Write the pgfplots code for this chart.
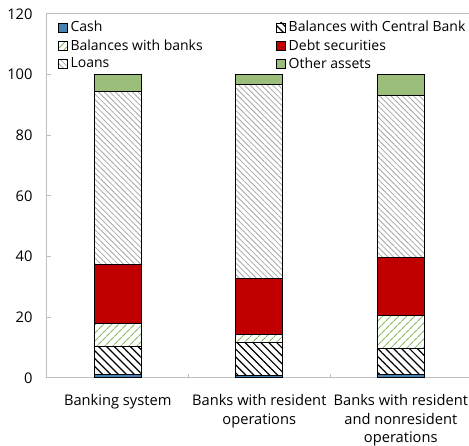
\documentclass[border=0pt]{standalone}
\usepackage{pgfplots}
\pgfplotsset{compat=1.18}
\usetikzlibrary{patterns.meta}
\usepackage{fontspec}
\setmainfont{Open Sans}
\definecolor{cashc}{RGB}{70,130,180}
\definecolor{debtc}{RGB}{192,0,0}
\definecolor{othc}{RGB}{155,191,122}
\definecolor{bankc}{RGB}{140,185,100}
\definecolor{framec}{RGB}{191,191,191}
\begin{document}
\fontsize{11pt}{14pt}\selectfont
\begin{tikzpicture}
\begin{axis}[
  at={(0,0)}, anchor=south west,
  scale only axis,
  width=318.4pt, height=273pt,
  ybar stacked, bar width=35.25pt,
  xmin=-0.5, xmax=2.5,
  ymin=0, ymax=120,
  ytick={0,20,...,120},
  xtick={0,1,2},
  xticklabels={Banking system, Banks with resident\\operations, Banks with resident\\and nonresident\\operations},
  xticklabel style={align=center, font=\fontsize{11pt}{14pt}\selectfont, yshift=-8.5pt},
  yticklabel style={font=\fontsize{11pt}{14pt}\selectfont, xshift=-7pt},
  /pgf/number format/assume math mode=true,
  major x tick style={draw=none},
  minor xtick={0.5,1.5},
  tick align=inside,
  major tick length=3pt, minor tick length=3pt,
  xtick pos=left, ytick pos=left,
  tick style={framec, line width=0.75pt},
  axis line style={framec, line width=0.75pt},
  legend columns=2,
  legend cell align=left,
  legend style={draw=none, fill=none, at={(0.025,0.988)}, anchor=north west,
    font=\fontsize{10.5pt}{12pt}\selectfont,
    row sep=0pt, inner sep=0pt,
    /tikz/every even column/.append style={column sep=53pt}},
  legend image code/.code={\draw[#1, draw=black, line width=0.5pt] (0pt,-3.4pt) rectangle (7pt,3.6pt);},
]
\addplot[fill=cashc, draw=black, line width=0.75pt] coordinates {(0,1.3) (1,0.8) (2,1.2)};
\addlegendentry{Cash}
\addplot[pattern={Lines[angle=-45,distance=4.2pt,line width=0.9pt]}, pattern color=black, draw=black, line width=0.75pt] coordinates {(0,9.0) (1,11.0) (2,8.4)};
\addlegendentry{Balances with Central Bank}
\addplot[pattern={Lines[angle=45,distance=4pt,line width=0.8pt]}, pattern color=bankc, draw=black, line width=0.75pt] coordinates {(0,7.8) (1,2.6) (2,10.9)};
\addlegendentry{Balances with banks}
\addplot[fill=debtc, draw=black, line width=0.75pt] coordinates {(0,19.3) (1,18.3) (2,19.2)};
\addlegendentry{Debt securities}
\addplot[pattern={Lines[angle=-45,distance=3pt,line width=0.6pt]}, pattern color=gray!70, draw=black, line width=0.75pt] coordinates {(0,57.0) (1,64.2) (2,53.5)};
\addlegendentry{Loans}
\addplot[fill=othc, draw=black, line width=0.75pt] coordinates {(0,5.6) (1,3.1) (2,6.8)};
\addlegendentry{Other assets}
\end{axis}
\pgfresetboundingbox
\useasboundingbox (-35.25pt,-51pt) rectangle (316.5pt,283.5pt);
\end{tikzpicture}
\end{document}
